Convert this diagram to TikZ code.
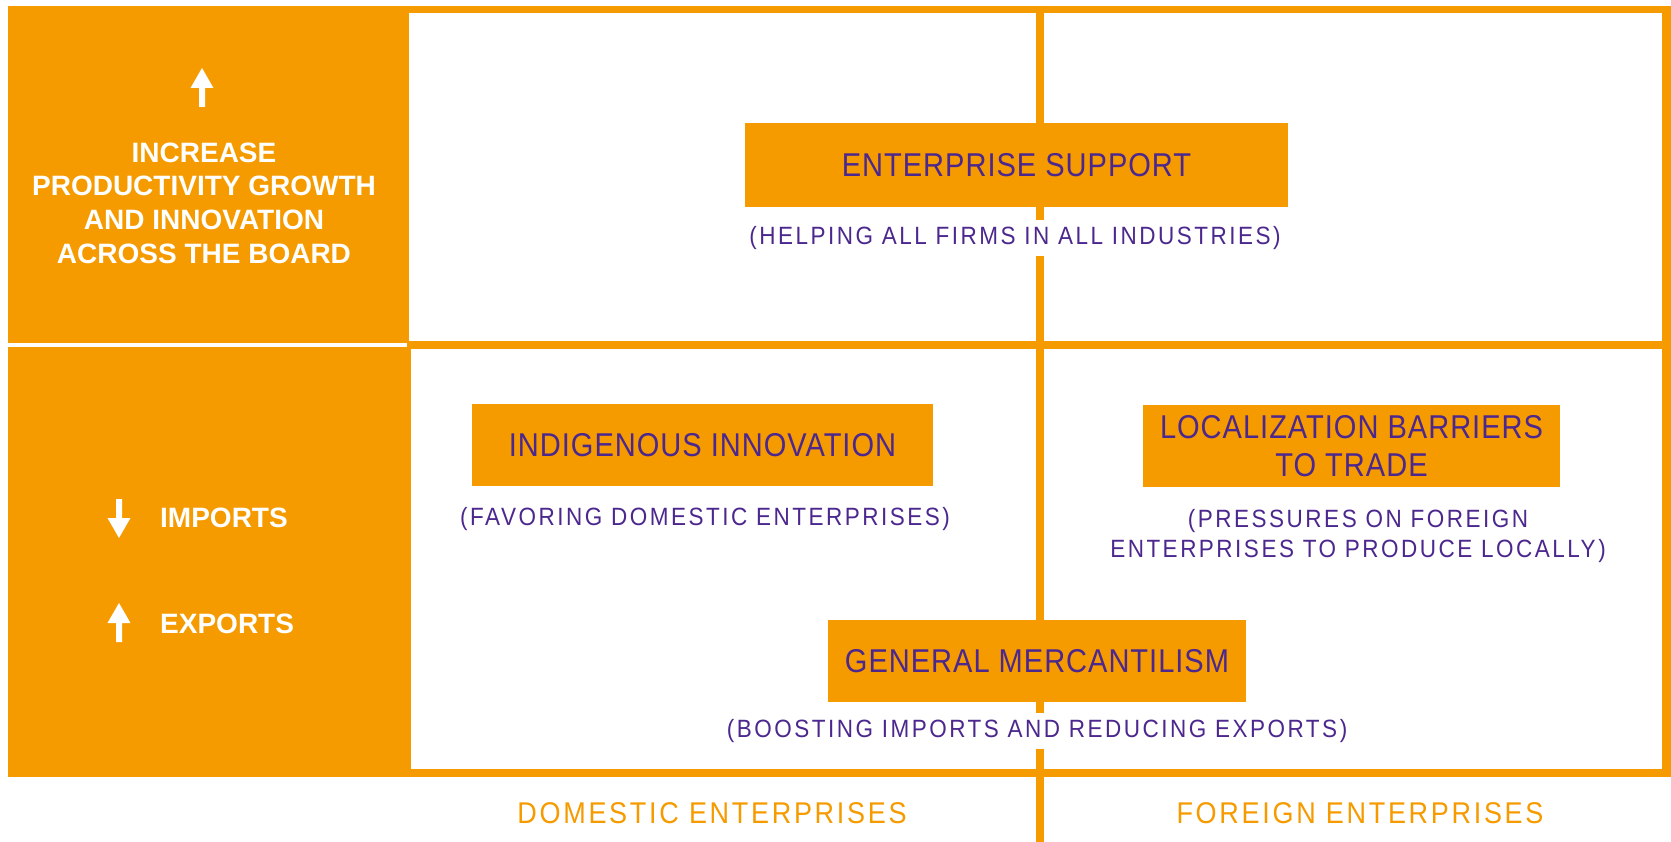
\documentclass[tikz,border=0pt]{standalone}
\usepackage{fontspec}
\setmainfont{Liberation Sans}
\newfontfamily\titlefont[FakeStretch=0.88,LetterSpace=3]{Liberation Sans}
\newfontfamily\notefont[FakeStretch=0.9,LetterSpace=10]{Liberation Sans}
\newfontfamily\axisfont[FakeStretch=0.9,LetterSpace=9]{Liberation Sans}
\definecolor{brandorange}{RGB}{245,155,0}
\definecolor{brandpurple}{RGB}{76,40,142}
\begin{document}
\begin{tikzpicture}[x=1pt,y=-1pt,
  box/.style={fill=brandorange, inner sep=0pt, text=brandpurple, font=\titlefont\fontsize{33}{38}\selectfont, align=center},
  note/.style={fill=white, inner xsep=4pt, inner ysep=6pt, text=brandpurple, font=\notefont\fontsize{25}{30}\selectfont, align=center},
  side/.style={text=white, font=\bfseries\fontsize{28}{33.7}\selectfont, align=center, inner sep=0pt},
  axis/.style={text=brandorange, font=\axisfont\fontsize{30}{34}\selectfont, inner sep=0pt},
  frameline/.style={draw=brandorange, line width=8pt},
  uparr/.pic={\fill[white] (-3,39) -- (-3,20) -- (-11.5,20) -- (0,0) -- (11.5,20) -- (3,20) -- (3,39) -- cycle;}
]
\useasboundingbox (0,0) rectangle (1671,842);
% left panel
\fill[brandorange] (8,6) rectangle (409,343.5);
\fill[brandorange] (8,347.5) rectangle (411,777);
% frame
\draw[frameline, line width=7pt] (407,9.5) -- (1671,9.5);
\draw[frameline, line width=9pt] (1666.5,6) -- (1666.5,777);
\draw[frameline] (409,773) -- (1671,773);
\draw[frameline] (407,345) -- (1671,345);
\draw[frameline, line width=8.6pt] (1040,6) -- (1040,842);
% boxes
\node[box, minimum width=543pt, minimum height=84pt] (es) at (1016.5,165) {ENTERPRISE SUPPORT};
\node[note] (esn) at (1015,238) {(HELPING ALL FIRMS IN ALL INDUSTRIES)};
\node[box, minimum width=461pt, minimum height=82pt] (ii) at (702.5,445) {INDIGENOUS INNOVATION};
\node[note] (iin) at (705,519) {(FAVORING DOMESTIC ENTERPRISES)};
\node[box, minimum width=417pt, minimum height=82pt] (lb) at (1351.5,446) {LOCALIZATION BARRIERS\\TO TRADE};
\node[note] (lbn) at (1358,536) {(PRESSURES ON FOREIGN\\ENTERPRISES TO PRODUCE LOCALLY)};
\node[box, minimum width=418pt, minimum height=82pt] (gm) at (1037,661) {GENERAL MERCANTILISM};
\node[note] (gmn) at (1037,731) {(BOOSTING IMPORTS AND REDUCING EXPORTS)};
% left side
\pic at (202,68) {uparr};
\node[side] (goal) at (204,203) {INCREASE\\PRODUCTIVITY GROWTH\\AND INNOVATION\\ACROSS THE BOARD};
\pic[yscale=-1] at (119,538) {uparr};
\node[side, anchor=west] (imp) at (160,518) {IMPORTS};
\pic at (119,603) {uparr};
\node[side, anchor=west] (exp) at (160,624) {EXPORTS};
% axis labels
\node[axis] (dom) at (712,813) {DOMESTIC ENTERPRISES};
\node[axis] (for) at (1360,813) {FOREIGN ENTERPRISES};
\end{tikzpicture}
\end{document}
